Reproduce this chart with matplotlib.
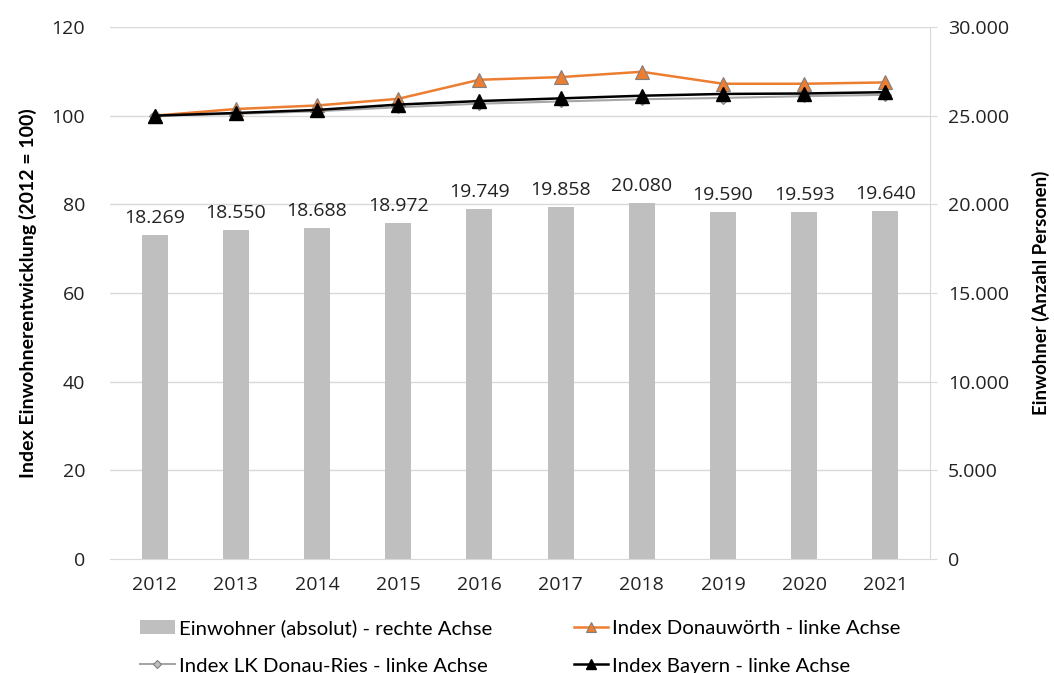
import numpy as np
import matplotlib.pyplot as plt
from matplotlib.ticker import FuncFormatter

plt.rcParams['font.family'] = ['Open Sans', 'DejaVu Sans']

jahre = ['2012', '2013', '2014', '2015', '2016', '2017', '2018', '2019', '2020', '2021']
einwohner = [18269, 18550, 18688, 18972, 19749, 19858, 20080, 19590, 19593, 19640]
index_donauwoerth = [100.0, 101.5, 102.3, 103.8, 108.1, 108.7, 109.9, 107.2, 107.2, 107.5]
index_lk = [100.0, 100.4, 101.0, 101.9, 102.7, 103.2, 103.7, 104.0, 104.4, 104.7]
index_bayern = [100.0, 100.6, 101.3, 102.5, 103.3, 103.9, 104.5, 104.9, 105.0, 105.3]

def de_format(v, pos=None):
    return f"{v:,.0f}".replace(",", ".")

fig = plt.figure(figsize=(10.54, 6.73), dpi=100)
ax = fig.add_axes([110/1054, 1 - 559/673, 820/1054, 532/673])
ax2 = ax.twinx()

x = np.arange(len(jahre))

# Balken auf der rechten Achse
bars = ax2.bar(x, einwohner, width=0.32, color='#BFBFBF', zorder=2,
               label='Einwohner (absolut) - rechte Achse')
for xi, v in zip(x, einwohner):
    ax2.text(xi, v + 450, de_format(v), ha='center', va='bottom', fontsize=14,
             color='#222222', family=['Open Sans', 'DejaVu Sans'])
ax2.set_ylim(0, 30000)
ax2.set_yticks(np.arange(0, 30001, 5000))
ax2.yaxis.set_major_formatter(FuncFormatter(de_format))
ax2.set_ylabel('Einwohner (Anzahl Personen)', fontsize=13.5, fontweight='bold',
               family=['Lato', 'DejaVu Sans'], labelpad=16)

# Linien auf der linken Achse (vor die Balken)
ax.set_zorder(ax2.get_zorder() + 1)
ax.patch.set_visible(False)
l1, = ax.plot(x, index_donauwoerth, color='#ED7D31', lw=1.8, marker='^', ms=10,
              mfc='#ED7D31', mec='#7F7F7F', mew=0.8, label='Index Donauwörth - linke Achse', zorder=4)
l2, = ax.plot(x, index_lk, color='#A6A6A6', lw=1.5, marker='D', ms=6,
              mfc='#BFBFBF', mec='#7F7F7F', mew=0.8, label='Index LK Donau-Ries - linke Achse', zorder=3)
l3, = ax.plot(x, index_bayern, color='black', lw=1.8, marker='^', ms=10,
              mfc='black', mec='black', label='Index Bayern - linke Achse', zorder=5)

ax.set_ylim(0, 120)
ax.set_yticks(np.arange(0, 121, 20))
ax.set_xlim(-0.55, len(jahre) - 0.45)
ax.set_xticks(x)
ax.set_xticklabels(jahre)
ax.set_ylabel('Index Einwohnerentwicklung (2012 = 100)', fontsize=14, fontweight='bold',
              family=['Lato', 'DejaVu Sans'], labelpad=10)

# Gitternetz
for yv in np.arange(20, 121, 20):
    ax2.axhline(yv * 250, color='#D9D9D9', lw=1, zorder=0)

for a in (ax, ax2):
    for s in ['top', 'left', 'bottom', 'right']:
        a.spines[s].set_visible(False)
    a.tick_params(length=0, labelsize=14, colors='#222222')
    for lab in a.get_xticklabels() + a.get_yticklabels():
        lab.set_family(['Open Sans', 'DejaVu Sans'])
ax2.spines['right'].set_visible(True)
ax2.spines['right'].set_color('#D9D9D9')
ax2.spines['bottom'].set_visible(True)
ax2.spines['bottom'].set_color('#D9D9D9')
ax.tick_params(axis='x', pad=12)
ax.tick_params(axis='y', pad=18)
ax2.tick_params(axis='y', length=5, color='#D9D9D9', pad=8)

fig.legend(handles=[bars, l2, l1, l3], loc='upper left', bbox_to_anchor=(140/1054, 1 - 619/673),
           ncol=2, frameon=False, borderpad=0, borderaxespad=0,
           prop={'family': ['Lato', 'DejaVu Sans'], 'size': 14.7},
           columnspacing=4.0, handlelength=1.7, handletextpad=0.2, labelspacing=1.0,
           markerscale=0.7)

fig.savefig('out.png', dpi=100)
